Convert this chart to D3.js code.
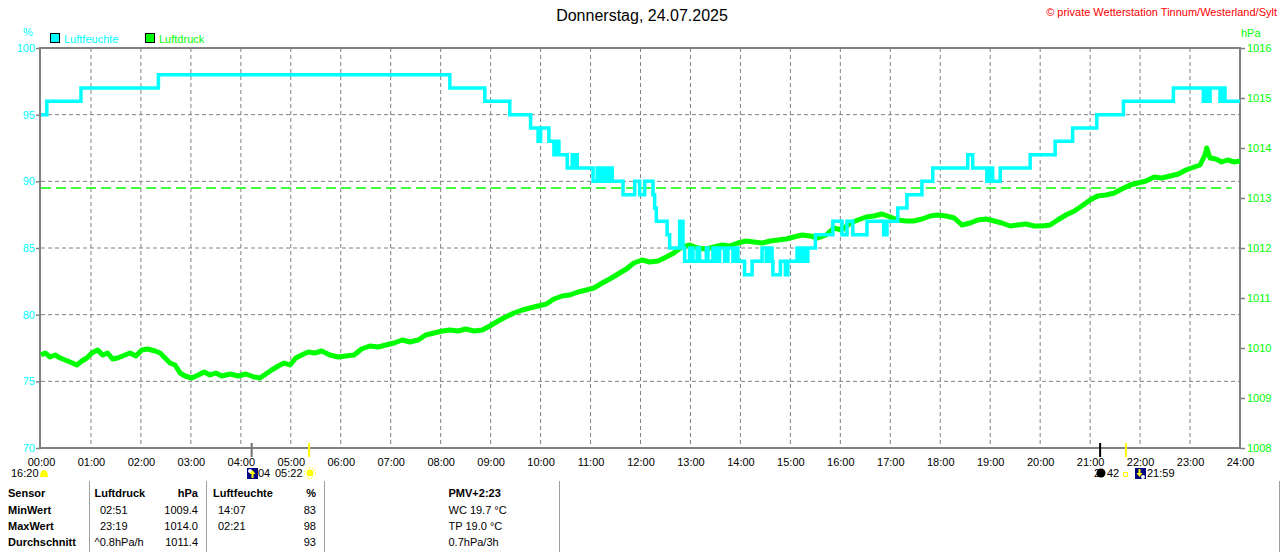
<!DOCTYPE html>
<html>
<head>
<meta charset="utf-8">
<script src="https://cdn.jsdelivr.net/npm/d3@7"></script>
<style>
  body { margin: 0; background: #fff; }
  svg { display: block; font-family: "Liberation Sans", Arial, sans-serif; font-size: 11px; }
</style>
</head>
<body>
<div id="chart"></div>
<script>
// Luftfeuchte in %, Stufenwerte ab Uhrzeit
var humTimes = ["00:00","00:07","00:48","02:21","08:11","08:53","09:23","09:48","09:57","10:00",
  "10:10","10:16","10:18","10:22","10:32","10:38","10:40","10:41","10:44","11:03",
  "11:08","11:11","11:15","11:19","11:22","11:26","11:39","11:53","11:59","12:05",
  "12:15","12:17","12:19","12:32","12:35","12:47","12:51","12:53","12:59","13:03",
  "13:08","13:11","13:19","13:21","13:27","13:31","13:35","13:41","13:45","13:51",
  "13:53","13:57","14:05","14:14","14:26","14:31","14:34","14:38","14:39","14:48",
  "14:54","14:57","15:08","15:12","15:15","15:19","15:21","15:30","15:51","16:02",
  "16:08","16:15","16:32","16:52","16:56","17:09","17:20","17:38","17:51","18:33",
  "18:39","18:56","19:00","19:03","19:12","19:48","20:18","20:39","21:08","21:40",
  "22:40","23:16","23:19","23:22","23:24","23:36","23:38","23:42","24:00"];
var humValues = [95,96,97,98,97,96,95,94,93,94,
  93,92,93,92,91,92,91,92,91,90,
  91,90,91,90,91,90,89,90,89,90,
  89,88,87,86,85,87,85,84,85,84,
  85,84,85,84,85,84,85,84,85,84,
  85,84,83,84,85,84,85,84,83,84,
  83,84,85,84,85,84,85,86,87,86,
  87,86,87,86,87,88,89,90,91,92,
  91,90,91,90,91,92,93,94,95,96,
  97,96,97,96,97,96,97,96,96];

// Luftdruck in hPa
var pressTimes = ["00:00","00:05","00:11","00:17","00:23","00:29","00:35","00:43","00:49","00:55",
  "01:01","01:08","01:14","01:20","01:26","01:32","01:41","01:47","01:54","02:01",
  "02:08","02:17","02:23","02:29","02:35","02:41","02:47","02:53","03:01","03:09",
  "03:16","03:23","03:30","03:37","03:47","03:57","04:06","04:16","04:23","04:30",
  "04:37","04:45","04:52","04:59","05:06","05:13","05:21","05:29","05:37","05:47",
  "05:57","06:06","06:16","06:25","06:35","06:45","06:54","07:04","07:14","07:23",
  "07:33","07:42","07:52","08:02","08:11","08:21","08:30","08:40","08:50","08:59",
  "09:09","09:18","09:28","09:38","09:47","09:57","10:07","10:16","10:26","10:35",
  "10:45","10:55","11:04","11:14","11:23","11:33","11:43","11:52","12:02","12:11",
  "12:21","12:31","12:40","12:50","12:59","13:09","13:19","13:28","13:38","13:47",
  "13:57","14:07","14:16","14:26","14:36","14:45","14:55","15:04","15:14","15:24",
  "15:33","15:43","15:52","16:02","16:12","16:21","16:31","16:40","16:50","17:00",
  "17:09","17:19","17:28","17:38","17:48","17:57","18:07","18:17","18:26","18:36",
  "18:45","18:55","19:05","19:14","19:24","19:33","19:43","19:53","20:02","20:12",
  "20:21","20:31","20:41","20:50","21:00","21:09","21:19","21:29","21:38","21:48",
  "21:57","22:07","22:17","22:26","22:36","22:46","22:55","23:05","23:12","23:18",
  "23:20","23:24","23:31","23:38","23:45","23:53","24:00"];
var pressValues = [1009.86,1009.90,1009.82,1009.86,1009.80,1009.76,1009.72,1009.66,1009.74,1009.80,
  1009.90,1009.96,1009.86,1009.90,1009.78,1009.80,1009.86,1009.90,1009.84,1009.96,
  1009.98,1009.94,1009.90,1009.80,1009.70,1009.66,1009.50,1009.44,1009.40,1009.46,
  1009.52,1009.46,1009.50,1009.44,1009.48,1009.44,1009.48,1009.42,1009.40,1009.48,
  1009.56,1009.64,1009.70,1009.66,1009.80,1009.86,1009.92,1009.90,1009.94,1009.86,
  1009.82,1009.84,1009.86,1009.98,1010.04,1010.02,1010.06,1010.10,1010.16,1010.12,
  1010.16,1010.26,1010.30,1010.34,1010.36,1010.34,1010.38,1010.34,1010.36,1010.44,
  1010.54,1010.62,1010.70,1010.76,1010.80,1010.84,1010.88,1010.98,1011.04,1011.06,
  1011.12,1011.16,1011.20,1011.30,1011.38,1011.48,1011.58,1011.70,1011.76,1011.72,
  1011.74,1011.82,1011.90,1012.02,1012.06,1012.00,1011.98,1012.02,1012.06,1012.04,
  1012.10,1012.14,1012.12,1012.10,1012.14,1012.16,1012.18,1012.22,1012.26,1012.24,
  1012.20,1012.26,1012.40,1012.36,1012.50,1012.56,1012.62,1012.64,1012.68,1012.62,
  1012.56,1012.54,1012.54,1012.58,1012.64,1012.66,1012.64,1012.60,1012.46,1012.50,
  1012.56,1012.58,1012.54,1012.50,1012.44,1012.46,1012.48,1012.44,1012.44,1012.46,
  1012.56,1012.66,1012.74,1012.84,1012.96,1013.04,1013.06,1013.10,1013.18,1013.26,
  1013.30,1013.34,1013.42,1013.40,1013.44,1013.48,1013.56,1013.62,1013.66,1013.86,
  1014.00,1013.80,1013.78,1013.72,1013.76,1013.72,1013.74];

var hourLabels = ["00:00","01:00","02:00","03:00","04:00","05:00","06:00","07:00","08:00",
  "09:00","10:00","11:00","12:00","13:00","14:00","15:00","16:00","17:00","18:00",
  "19:00","20:00","21:00","22:00","23:00","24:00"];
var humTicks = [70, 75, 80, 85, 90, 95, 100];
var pressTicks = [1008, 1009, 1010, 1011, 1012, 1013, 1014, 1015, 1016];
var refPressure = 1013.2;

// Sonne / Mond Markierungen unter der Zeitachse
var markerTimes = ["04:13", "05:22", "21:12", "21:43"];

// Tabelle unten
var sensorCol = ["Sensor", "MinWert", "MaxWert", "Durchschnitt"];
var pressTimeCol = ["Luftdruck", "02:51", "23:19", "^0.8hPa/h"];
var pressValCol = ["hPa", "1009.4", "1014.0", "1011.4"];
var humTimeCol = ["Luftfeuchte", "14:07", "02:21", ""];
var humValCol = ["%", "83", "98", "93"];
var extraCol = ["PMV+2:23", "WC 19.7 °C", "TP 19.0 °C", "0.7hPa/3h"];

var width = 1280, height = 552;
var margin = {top: 48, right: 40, bottom: 104, left: 41};
var CYAN = "#00ffff", GREEN = "#00ff00", GRAY = "#808080";

function toMin(s) {
  var p = s.split(":");
  return +p[0] * 60 + +p[1];
}

var svg = d3.select("#chart").append("svg")
  .attr("width", width)
  .attr("height", height);

var xScale = d3.scaleLinear().domain([0, 1440]).range([margin.left, width - margin.right]);
var yHum = d3.scaleLinear().domain([70, 100]).range([height - margin.bottom, margin.top]);
var yPress = d3.scaleLinear().domain([1008, 1016]).range([height - margin.bottom, margin.top]);

// grid
var grid = svg.append("g").attr("class", "grid");
grid.selectAll("line.h")
  .data(humTicks.slice(1, -1))
  .enter().append("line")
  .attr("class", "h")
  .attr("x1", xScale(0)).attr("x2", xScale(1440))
  .attr("y1", d => yHum(d)).attr("y2", d => yHum(d))
  .attr("stroke", GRAY).attr("stroke-dasharray", "4,3");
grid.selectAll("line.v")
  .data(hourLabels.slice(1, -1))
  .enter().append("line")
  .attr("class", "v")
  .attr("x1", d => xScale(toMin(d))).attr("x2", d => xScale(toMin(d)))
  .attr("y1", yHum(100)).attr("y2", yHum(70))
  .attr("stroke", GRAY).attr("stroke-dasharray", "4,3");

// reference pressure
svg.append("line")
  .attr("x1", xScale(0)).attr("x2", xScale(1430))
  .attr("y1", yPress(refPressure)).attr("y2", yPress(refPressure))
  .attr("stroke", GREEN).attr("stroke-width", 1.5)
  .attr("stroke-dasharray", "10,5");

// axes
var leftAxis = svg.append("g")
  .attr("transform", "translate(" + margin.left + ",0)")
  .call(d3.axisLeft(yHum).tickValues(humTicks).tickSize(5).tickPadding(1));
var rightAxis = svg.append("g")
  .attr("transform", "translate(" + (width - margin.right) + ",0)")
  .call(d3.axisRight(yPress).tickValues(pressTicks).tickSize(5).tickPadding(2)
    .tickFormat(d3.format("d")));
var bottomAxis = svg.append("g")
  .attr("transform", "translate(0," + (height - margin.bottom) + ")")
  .call(d3.axisBottom(xScale).tickValues(hourLabels.map(toMin))
    .tickFormat((d, i) => hourLabels[i]).tickSize(0).tickPadding(10));

[leftAxis, rightAxis, bottomAxis].forEach(function(a) {
  a.attr("font-family", null).attr("font-size", null);
  a.select(".domain").remove();
  a.selectAll(".tick line").attr("stroke", GRAY).attr("stroke-width", 1.5);
});
leftAxis.selectAll("text").attr("fill", CYAN);
rightAxis.selectAll("text").attr("fill", GREEN);
bottomAxis.selectAll("text").attr("fill", "#000");

// frame
svg.append("rect")
  .attr("x", margin.left - 1).attr("y", margin.top)
  .attr("width", xScale(1440) - margin.left + 1)
  .attr("height", yHum(70) - margin.top)
  .attr("fill", "none").attr("stroke", GRAY).attr("stroke-width", 2);

// series
var pressData = pressTimes.map((t, i) => ({t: toMin(t), v: pressValues[i]}));
var humData = humTimes.map((t, i) => ({t: toMin(t), v: humValues[i]}));

svg.append("path")
  .datum(pressData)
  .attr("fill", "none")
  .attr("stroke", GREEN)
  .attr("stroke-width", 5)
  .attr("stroke-linejoin", "round")
  .attr("d", d3.line().x(d => xScale(d.t)).y(d => yPress(d.v)));

svg.append("path")
  .datum(humData)
  .attr("fill", "none")
  .attr("stroke", CYAN)
  .attr("stroke-width", 3.5)
  .attr("d", d3.line().curve(d3.curveStepAfter).x(d => xScale(d.t)).y(d => yHum(d.v)));

// title, units, legend
svg.append("text")
  .attr("x", 642).attr("y", 21)
  .attr("text-anchor", "middle")
  .style("font-size", "16px")
  .text("Donnerstag, 24.07.2025");
svg.append("text")
  .attr("x", 1277).attr("y", 16)
  .attr("text-anchor", "end")
  .attr("fill", "#ff0000")
  .text("© private Wetterstation Tinnum/Westerland/Sylt");
svg.append("text").attr("x", 23).attr("y", 36).attr("fill", CYAN).text("%");
svg.append("text").attr("x", 1241).attr("y", 37).attr("fill", GREEN).text("hPa");

var legend = [{name: "Luftfeuchte", color: CYAN, x: 50}, {name: "Luftdruck", color: GREEN, x: 145}];
var lg = svg.selectAll(".legend-key")
  .data(legend)
  .enter().append("g")
  .attr("class", "legend-key")
  .attr("transform", d => "translate(" + d.x + ",33)");
lg.append("rect")
  .attr("x", 0.5).attr("y", 0.5).attr("width", 9).attr("height", 9)
  .attr("fill", d => d.color).attr("stroke", "#000");
lg.append("text")
  .attr("x", 14).attr("y", 9.5)
  .attr("fill", d => d.color)
  .text(d => d.name);

// markers below x axis
var markerColors = ["#707070", "#ffff00", "#000000", "#ffff00"];
svg.selectAll(".marker")
  .data(markerTimes)
  .enter().append("line")
  .attr("class", "marker")
  .attr("x1", d => xScale(toMin(d))).attr("x2", d => xScale(toMin(d)))
  .attr("y1", 443).attr("y2", 457)
  .attr("stroke", (d, i) => markerColors[i]).attr("stroke-width", 2);

var info = svg.append("g").attr("class", "sun-moon");
info.append("text").attr("x", 11).attr("y", 477).text("16:20");
info.append("path")
  .attr("d", "M40,477 Q40,470 44,470 Q48,470 48,477 Z")
  .attr("fill", "#ffff00");
// sunrise icon
info.append("rect").attr("x", 247).attr("y", 468).attr("width", 11).attr("height", 11).attr("fill", "#000080");
info.append("circle").attr("cx", 250).attr("cy", 471).attr("r", 2).attr("fill", "#fff");
info.append("path").attr("d", "M252.5,470 L255.5,474 L253.5,474 L253.5,478 L251.5,478 L251.5,474 L249.5,474 Z").attr("fill", "#ffff00");
info.append("text").attr("x", 258).attr("y", 477).text("04");
info.append("text").attr("x", 275).attr("y", 477).text("05:22");
info.append("circle").attr("cx", 310).attr("cy", 473).attr("r", 3.5).attr("fill", "#ffff00");
info.append("circle").attr("cx", 310).attr("cy", 473).attr("r", 5.5).attr("fill", "none")
  .attr("stroke", "#ffff00").attr("stroke-dasharray", "1.5,1.5");
// moon / sunset
info.append("text").attr("x", 1094).attr("y", 477).text("2");
info.append("circle").attr("cx", 1101).attr("cy", 473).attr("r", 4.5).attr("fill", "#000");
info.append("text").attr("x", 1107).attr("y", 477).text("42");
info.append("rect").attr("x", 1123.5).attr("y", 472.5).attr("width", 4).attr("height", 4)
  .attr("fill", "none").attr("stroke", "#ffff00");
info.append("rect").attr("x", 1135).attr("y", 468).attr("width", 11).attr("height", 11).attr("fill", "#000080");
info.append("path").attr("d", "M1138.5,469 L1140.5,469 L1140.5,473 L1142.5,473 L1139.5,477 L1136.5,473 L1138.5,473 Z").attr("fill", "#ffff00");
info.append("circle").attr("cx", 1143).attr("cy", 477).attr("r", 2).attr("fill", "#fff");
info.append("text").attr("x", 1147).attr("y", 477).text("21:59");

// table
var rowY = [497, 514, 530, 546];
var table = svg.append("g").attr("class", "table");
[89, 206, 324, 559, 1279].forEach(function(x) {
  table.append("line")
    .attr("x1", x + 0.5).attr("x2", x + 0.5)
    .attr("y1", 481).attr("y2", height)
    .attr("stroke", "#a0a0a0");
});
function addCol(values, x, anchor, boldAll, dx) {
  table.selectAll(null)
    .data(values)
    .enter().append("text")
    .attr("x", (d, i) => i === 0 ? x : x + (dx || 0))
    .attr("y", (d, i) => rowY[i])
    .attr("text-anchor", anchor)
    .style("font-weight", (d, i) => boldAll || i === 0 ? "bold" : "normal")
    .text(d => d);
}
addCol(sensorCol, 8, "start", true);
addCol(pressTimeCol, 94.5, "start", false, 5.5);
table.selectAll("text").filter(d => d === "^0.8hPa/h").attr("x", 94.5);
addCol(pressValCol, 198, "end", false);
addCol(humTimeCol, 213, "start", false, 5);
addCol(humValCol, 316, "end", false);
addCol(extraCol, 448.5, "start", false);
</script>
</body>
</html>
